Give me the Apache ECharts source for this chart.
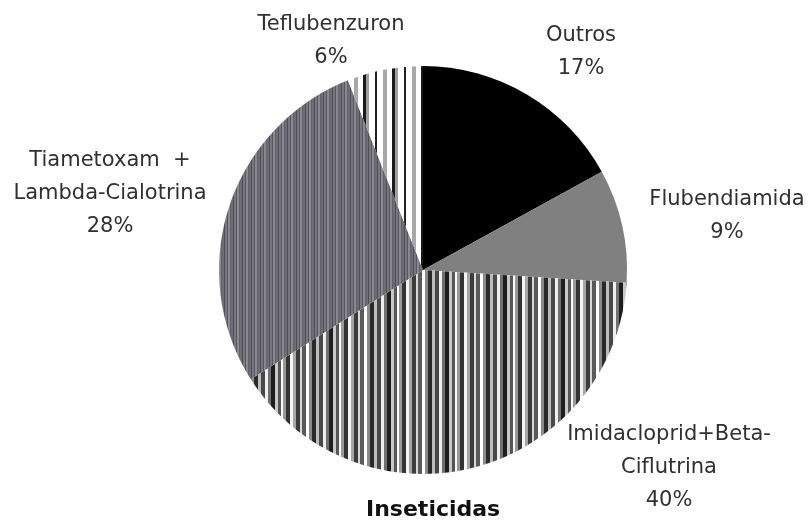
<!DOCTYPE html>
<html><head><meta charset="utf-8">
<script src="https://cdn.jsdelivr.net/npm/echarts@6/dist/echarts.min.js"></script>
<style>html,body{margin:0;padding:0;background:#fff}#c{width:811px;height:522px}</style>
</head><body><div id="c"></div>
<script>
const categories = ['Outros', 'Flubendiamida', 'Imidacloprid+Beta-\nCiflutrina', 'Tiametoxam  +\nLambda-Cialotrina', 'Teflubenzuron'];
const values = [17, 9, 40, 28, 6];
const title = 'Inseticidas';

function stripes(cols, widths) {
  const total = widths.reduce((a, b) => a + b, 0);
  const c = document.createElement('canvas');
  c.width = total; c.height = 4;
  const g = c.getContext('2d');
  let x = 0;
  cols.forEach((col, i) => { g.fillStyle = col; g.fillRect(x, 0, widths[i], 4); x += widths[i]; });
  return { image: c, repeat: 'repeat' };
}
const fills = [
  '#000000',
  '#808080',
  stripes(['#f4f4f4','#a5a5a5','#3c3c3c','#d8d8d8','#5a5a5a','#ffffff','#8a8a8a','#2a2a2a','#bdbdbd','#484848','#eeeeee','#707070','#1e1e1e','#c8c8c8','#555555','#fafafa','#999999','#333333'],
          [3,3,4,2,4,3,3,4,3,4,3,3,4,3,3,2,3,4]),
  stripes(['#77767f','#58575f','#8a8992','#62616a','#6e6d76','#4f4e56'], [2,1,2,1,2,1]),
  stripes(['#ffffff','#a8a8a8','#ffffff','#1a1a1a','#a0a0a0','#ffffff','#222222'], [6,4,5,3,3,6,2])
];
const labelPos = [[581, 52], [727, 216], [669, 468], [110, 194], [331, 41]];

const chart = echarts.init(document.getElementById('c'));
chart.setOption({
  animation: false,
  title: { text: title, left: 361, top: 494, textStyle: { fontFamily: 'DejaVu Sans', fontSize: 22, fontWeight: 'bold', color: '#111' } },
  series: [{
    type: 'pie',
    center: [423, 270],
    radius: 204,
    startAngle: 90,
    clockwise: true,
    data: categories.map((n, i) => ({ name: n, value: values[i], itemStyle: { color: fills[i] } })),
    itemStyle: { borderWidth: 0 },
    label: {
      show: true,
      formatter: '{b}\n{d}%',
      fontFamily: 'DejaVu Sans',
      fontSize: 21,
      lineHeight: 33,
      color: '#303030',
      align: 'center',
      overflow: 'none',
      edgeDistance: 0
    },
    labelLine: { show: false },
    labelLayout: function (p) {
      return { x: labelPos[p.dataIndex][0], y: labelPos[p.dataIndex][1], align: 'center', verticalAlign: 'middle' };
    },
    emphasis: { disabled: true }
  }]
});
</script></body></html>
